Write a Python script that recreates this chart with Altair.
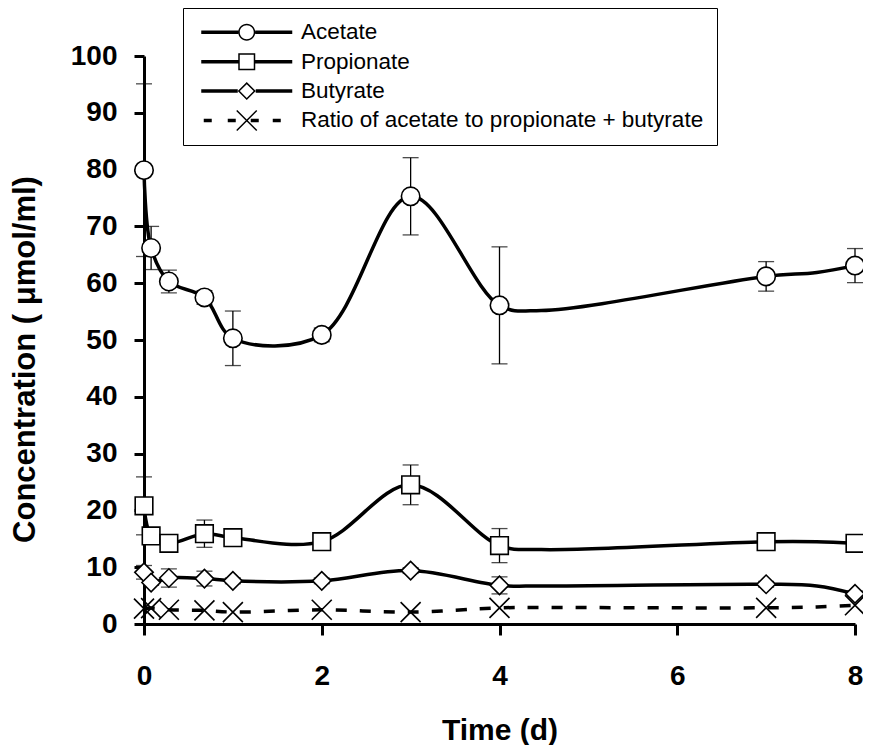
import altair as alt
import pandas as pd

# ---- data ----
t_obs = [0, 0.08, 0.28, 0.68, 1, 2, 3, 4, 7, 8]
acetate = [79.9, 66.2, 60.3, 57.5, 50.3, 50.9, 75.3, 56.1, 61.2, 63.1]
acetate_err = [15.2, 3.8, 2.0, 1.2, 4.8, 1.2, 6.8, 10.3, 2.6, 3.0]
propionate = [20.8, 15.5, 14.2, 15.9, 15.2, 14.5, 24.5, 13.8, 14.5, 14.2]
propionate_err = [5.1, 0.8, 0.5, 2.4, 0.5, 0.5, 3.5, 3.0, 0.5, 0.5]
butyrate = [9.1, 7.3, 8.1, 8.0, 7.6, 7.6, 9.4, 6.8, 7.0, 5.3]
butyrate_err = [1.2, 0.5, 1.6, 1.3, 0.5, 0.5, 0.5, 1.5, 0.5, 0.5]
ratio = [2.7, 2.8, 2.5, 2.4, 2.1, 2.5, 2.1, 2.85, 2.85, 3.3]

# smoothed trend lines (as drawn in the reference)
line_t = [0, 0.08, 0.28, 0.68, 1, 2, 3, 4, 4.47, 7, 7.57, 8]
acetate_line = [79.9, 66.2, 60.3, 57.5, 50.3, 50.9, 75.3, 56.1, 55.2, 61.2, 61.9, 63.1]
propionate_line = [20.8, 15.5, 14.2, 15.9, 15.2, 14.5, 24.5, 13.8, 13.1, 14.5, 14.5, 14.2]
butyrate_line = [9.1, 7.3, 8.1, 8.0, 7.6, 7.6, 9.4, 6.8, 6.7, 7.0, 6.7, 5.3]
ratio_line = [2.7, 2.8, 2.5, 2.4, 2.1, 2.5, 2.1, 2.85, 2.9, 2.85, 3.0, 3.3]

names = ["Acetate", "Propionate", "Butyrate",
         "Ratio of acetate to propionate + butyrate"]
x_ticks = [0, 2, 4, 6, 8]
y_ticks = [0, 10, 20, 30, 40, 50, 60, 70, 80, 90, 100]

# ---- styles ----
X_PATH = "M-1,-1L1,1M1,-1L-1,1"
marker_shapes = ["circle", "square", "diamond", X_PATH]
marker_sizes = [340, 310, 340, 400]

def rect(x1, x2, h=1.75):
    return f"M{x1},{-h}L{x2},{-h}L{x2},{h}L{x1},{h}Z"

circ = ("M-8.5,0A8.5,8.5 0 1,1 8.5,0A8.5,8.5 0 1,1 -8.5,0Z"
        "M-7,0A7,7 0 1,0 7,0A7,7 0 1,0 -7,0Z")
sq = "M-8.5,-8.5L8.5,-8.5L8.5,8.5L-8.5,8.5ZM-7,-7L-7,7L7,7L7,-7Z"
dia = "M-9,0L0,-9L9,0L0,9ZM-6.9,0L0,6.9L6.9,0L0,-6.9Z"
xx = ("M-9.47,-10.53L10.53,9.47L9.47,10.53L-10.53,-9.47Z"
      "M-9.47,10.53L-10.53,9.47L9.47,-10.53L10.53,-9.47Z")
legend_paths = [
    rect(-45.5, -8.5) + circ + rect(8.5, 45.5),
    rect(-45.5, -8.5) + sq + rect(8.5, 45.5),
    rect(-45.5, -9) + dia + rect(9, 45.5),
    rect(-43, -35) + rect(-19, -11) + xx + rect(4, 12) + rect(26, 34),
]

# ---- tables ----
obs_vals = [acetate, propionate, butyrate, ratio]
errs = [acetate_err, propionate_err, butyrate_err, None]
rows = []
for i, nm in enumerate(names):
    for j, t in enumerate(t_obs):
        v = obs_vals[i][j]
        e = errs[i][j] if errs[i] is not None else None
        rows.append(dict(series=nm, t=t, v=v,
                         lo=(v - e) if e is not None else None,
                         hi=(v + e) if e is not None else None))
pts = pd.DataFrame(rows)
err_df = pts.dropna(subset=["lo"])

lrows = []
for nm, vals in zip(names, [acetate_line, propionate_line, butyrate_line, ratio_line]):
    for t, v in zip(line_t, vals):
        lrows.append(dict(series=nm, t=t, v=v))
lines = pd.DataFrame(lrows)

FONT = "Liberation Sans"
xs = alt.Scale(domain=[0, 8], nice=False, zero=False)
ys = alt.Scale(domain=[0, 100], nice=False)

X = alt.X("t:Q", scale=xs, axis=alt.Axis(
    values=x_ticks, format="d", title="Time (d)", tickSize=11, labelPadding=27,
    titlePadding=25, labelFlush=False, labelOverlap=False))
Y = alt.Y("v:Q", scale=ys, axis=alt.Axis(
    values=y_ticks, format="d", title="Concentration ( μmol/ml)", tickSize=10,
    labelPadding=17, titlePadding=29, labelFlush=False, labelOverlap=False,
    titleFontSize=31, titleY=303))

base_line = alt.Chart(lines)
solid = base_line.transform_filter(
    alt.datum.series != names[3]
).mark_line(color="black", strokeWidth=3.5, interpolate="catmull-rom").encode(
    x=X, y=Y, detail="series:N", order="t:Q")
dashed = base_line.transform_filter(
    alt.datum.series == names[3]
).mark_line(color="black", strokeWidth=3.5, interpolate="catmull-rom",
            strokeDash=[11, 13]).encode(x=X, y=Y, order="t:Q")

ebars = alt.Chart(err_df).mark_rule(color="black", strokeWidth=1.3).encode(
    x=X, y=alt.Y("lo:Q", scale=ys), y2="hi:Q")
cap_hi = alt.Chart(err_df).mark_tick(color="black", thickness=1.3, size=16,
                                     orient="horizontal").encode(
    x=X, y=alt.Y("hi:Q", scale=ys))
cap_lo = alt.Chart(err_df).mark_tick(color="black", thickness=1.3, size=16,
                                     orient="horizontal").encode(
    x=X, y=alt.Y("lo:Q", scale=ys))

point_layers = []
for nm, shp, sz in zip(names, marker_shapes, marker_sizes):
    point_layers.append(
        alt.Chart(pts).transform_filter(alt.datum.series == nm).mark_point(
            shape=shp, size=sz, filled=True, fill="white", stroke="black",
            strokeWidth=1.6, opacity=1).encode(x=X, y=Y))

legend_layer = alt.Chart(pts).transform_filter("false").mark_point(
    filled=True, color="black", size=4, strokeWidth=0, opacity=1).encode(
    x=X, y=Y,
    shape=alt.Shape("series:N", scale=alt.Scale(domain=names, range=legend_paths),
                    legend=alt.Legend(
                        title=None, orient="none", legendX=39, legendY=-48,
                        padding=13, strokeColor="black", fillColor="white",
                        symbolSize=4, symbolStrokeWidth=0,
                        symbolOpacity=1, symbolOffset=39.5, labelOffset=43,
                        rowPadding=6.4, labelFont=FONT, labelFontSize=22.5,
                        labelColor="black", labelLimit=700)))

chart = alt.layer(solid, dashed, ebars, cap_hi, cap_lo, *point_layers,
                  legend_layer).properties(
    width=711, height=568,
    autosize=alt.AutoSizeParams(type="none"),
    padding={"left": 136, "top": 48, "right": 8, "bottom": 121},
    background="white",
).configure_view(stroke=None).configure_axis(
    grid=False, domainColor="black", domainWidth=3, tickColor="black", tickWidth=3,
    labelFont=FONT, labelFontSize=28, labelFontWeight="bold", labelColor="black",
    titleFont=FONT, titleFontSize=30, titleFontWeight="bold", titleColor="black",
)

chart.save("out.html", embed_options={"renderer": "svg", "actions": False})
